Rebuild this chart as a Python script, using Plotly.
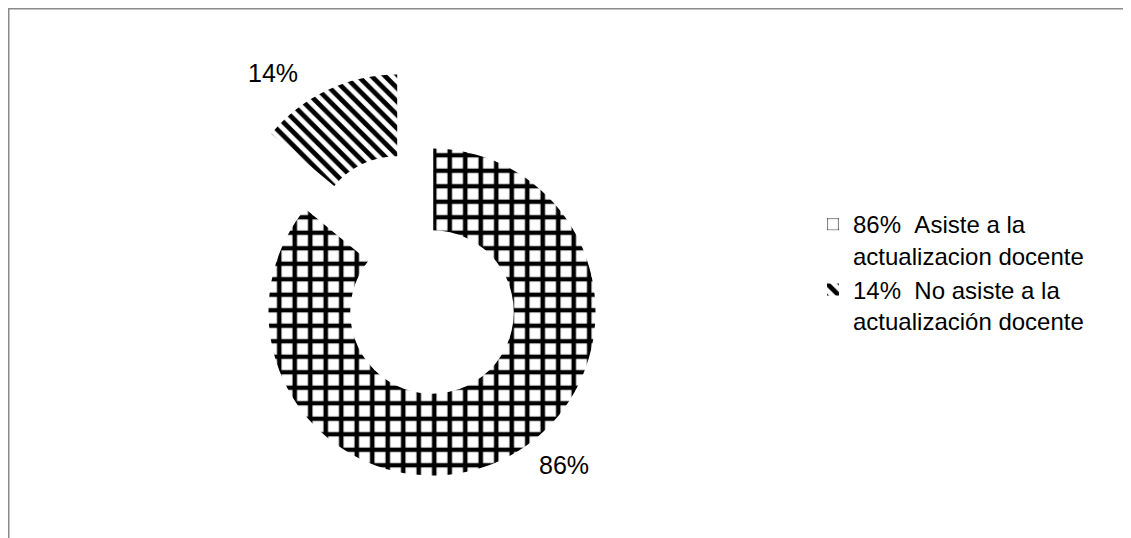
import math
import plotly.graph_objects as go

# ---- data ----
categories = ["Asiste a la<br>actualizacion docente",
              "No asiste a la<br>actualización docente"]
values = [86, 14]
pct_labels = [f"{v}%" for v in values]
legend_labels = [f"{p}\u00a0\u00a0{c}" for p, c in zip(pct_labels, categories)]

# ---- layout constants (pixels, page coordinates; the page has an 8px body margin) ----
OFF = 8
W, H = 1131, 538
cx, cy = 432 - OFF, 312 - OFF   # donut centre in figure px
R = 163.5                       # outer radius
HOLE = 0.5
PULL = 0.5                      # exploded slice offset as fraction of radius
FONT = "Liberation Sans, Arial, sans-serif"

CHECK = dict(shape="+", size=15.5, solidity=0.5)
STRIPE = dict(shape="\\", size=9.5, solidity=0.5)


def domain_at(px, py, r):
    return dict(x=[(px - r) / W, (px + r) / W],
                y=[1 - (py + r) / H, 1 - (py - r) / H])


# direction of the exploded slice (mid angle of 2nd slice, clockwise from 12 o'clock)
total = sum(values)
mid = (values[0] + values[1] / 2) / total * 2 * math.pi
ex_cx = cx + math.sin(mid) * PULL * R
ex_cy = cy - math.cos(mid) * PULL * R

common = dict(labels=legend_labels, values=values, hole=HOLE, sort=False,
              direction="clockwise", rotation=0, textinfo="none",
              hoverinfo="skip")

fig = go.Figure()
# base ring (also the legend source)
fig.add_trace(go.Pie(**common, domain=domain_at(cx, cy, R), showlegend=True,
                     marker=dict(colors=["white", "white"],
                                 line=dict(width=0),
                                 pattern=dict(shape=[CHECK["shape"], STRIPE["shape"]],
                                              fgcolor="black", bgcolor="white",
                                              size=[CHECK["size"], STRIPE["size"]],
                                              solidity=[CHECK["solidity"], STRIPE["solidity"]]))))
# blank the un-exploded position of the 2nd slice
fig.add_trace(go.Pie(**common, domain=domain_at(cx, cy, R), showlegend=False,
                     marker=dict(colors=["rgba(0,0,0,0)", "white"],
                                 line=dict(width=[0, 2.5], color="white"))))
# exploded 2nd slice
fig.add_trace(go.Pie(**common, domain=domain_at(ex_cx, ex_cy, R), showlegend=False,
                     marker=dict(colors=["rgba(0,0,0,0)", "white"], line=dict(width=0),
                                 pattern=dict(shape=["", STRIPE["shape"]],
                                              fgcolor="black", bgcolor="white",
                                              size=STRIPE["size"],
                                              solidity=STRIPE["solidity"]))))

annotations = [
    dict(text=pct_labels[0], x=(564 - OFF) / W, y=1 - (465 - OFF) / H),
    dict(text=pct_labels[1], x=(273 - OFF) / W, y=1 - (73 - OFF) / H),
]
for a in annotations:
    a.update(xref="paper", yref="paper", showarrow=False,
             xanchor="center", yanchor="middle",
             font=dict(family=FONT, size=25, color="black"))

# chart-area frame: only the top and left edges fall inside the view
bx = 0.75 / W
by = 1 - 0.75 / H
frame = f"M {bx},-0.2 L {bx},{by} L 1.2,{by}"

fig.update_layout(
    width=W, height=H,
    margin=dict(l=0, r=0, t=0, b=0),
    paper_bgcolor="white", plot_bgcolor="white",
    font=dict(family=FONT, color="black"),
    annotations=annotations,
    legend=dict(x=(813 - OFF) / W, y=1 - (202 - OFF) / H, xanchor="left", yanchor="top",
                font=dict(family=FONT, size=24, color="black"),
                valign="top", bgcolor="rgba(0,0,0,0)"),
    shapes=[dict(type="path", xref="paper", yref="paper", path=frame,
                 line=dict(color="#8a8a8a", width=1.5), layer="below")],
)

fig.write_html("out.html", config={"displayModeBar": False})
